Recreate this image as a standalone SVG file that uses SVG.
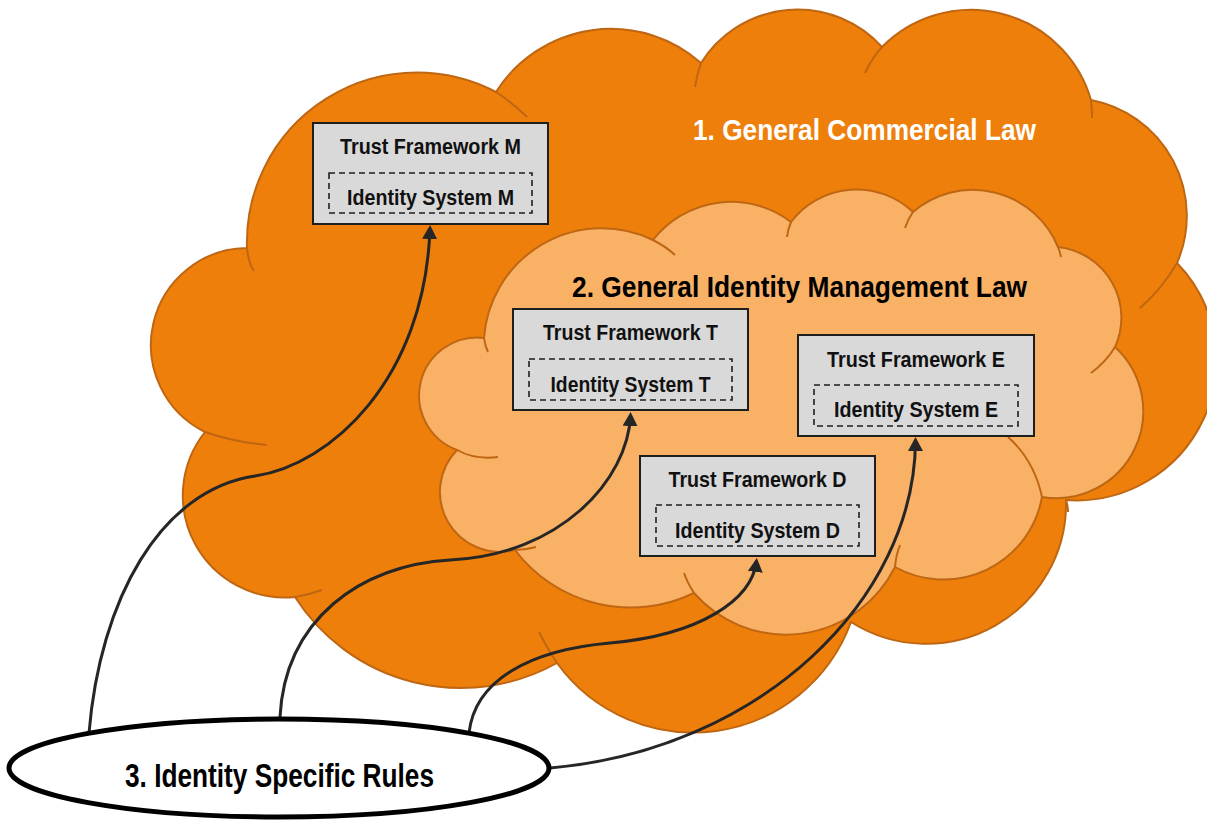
<svg xmlns="http://www.w3.org/2000/svg" width="1207" height="820" viewBox="0 0 1207 820">
<defs>
<style>
.cloud-outer{fill:#EF7F0B;stroke:#BE6612;stroke-width:2}
.cloud-inner{fill:#F9B166;stroke:#BE6612;stroke-width:2}
.tick{fill:none;stroke:#BE6612;stroke-width:2}
.box{fill:#D9D9D9;stroke:#1E1E1E;stroke-width:2}
.dash{fill:none;stroke:#1E1E1E;stroke-width:1.6;stroke-dasharray:6 4}
.lbl{font-family:"Liberation Sans",Arial,sans-serif;font-weight:bold;font-size:22px;fill:#111;text-anchor:middle}
.big{font-family:"Liberation Sans",Arial,sans-serif;font-weight:bold;font-size:30px}
.conn{fill:none;stroke:#262626;stroke-width:3;marker-end:url(#arr)}
</style>
<marker id="arr" viewBox="0 0 14 15" refX="11" refY="7.5" markerWidth="14" markerHeight="15" markerUnits="userSpaceOnUse" orient="auto">
<path d="M0,0 L14,7.5 L0,15 Z" fill="#262626"/>
</marker>
</defs>

<g id="cloud-commercial-law">
<path class="cloud-outer" d="M205,432 A97 97 0 0 1 247,248 A170 170 0 0 1 496,92 A136 136 0 0 1 701,63 A114 114 0 0 1 882,47 A125 125 0 0 1 1091,100 A118 118 0 0 1 1177,263 A140 140 0 0 1 1066,500 A140 140 0 0 1 851,622 A168 168 0 0 1 557,663 A197 197 0 0 1 295,597 A102 102 0 0 1 205,432 Z"/>
<path class="tick" d="M247,248 Q248,262 254,271 M496,92 Q513,103 527,117 M701,63 Q697,74 695,87 M882,47 Q872,58 865,73 M1091,100 Q1092,108 1092,118 M1177,263 Q1162,289 1140,308 M1066,500 Q1068,506 1068,512 M557,663 Q546,646 539,632 M295,597 Q308,595 322,590 M205,432 Q234,442 267,445"/>
<text class="big" x="693" y="140" fill="#FFFFFF" textLength="343" lengthAdjust="spacingAndGlyphs">1. General Commercial Law</text>
</g>

<g id="cloud-identity-law">
<path class="cloud-inner" d="M457,450 A58 58 0 0 1 484,338 A118 118 0 0 1 653,240 A99 99 0 0 1 791,222 A82 82 0 0 1 913,212 A92 92 0 0 1 1058,247 A71 71 0 0 1 1115,347 A87 87 0 0 1 1042,497 A100 100 0 0 1 895,567 A122 122 0 0 1 694,593 A145 145 0 0 1 515,550 A60 60 0 0 1 457,450 Z"/>
<path class="tick" d="M457,450 Q475,460 498,457 M484,338 Q485,346 488,352 M653,240 Q665,246 675,255 M791,222 Q788,229 787,237 M913,212 Q908,219 905,228 M1058,247 Q1060,252 1061,257 M1115,347 Q1106,362 1091,373 M1008,437 Q1034,460 1042,497 M895,567 Q896,555 900,545 M694,593 Q687,582 684,573 M515,550 Q525,550 536,547"/>
<text class="big" x="572" y="297" fill="#000000" textLength="455" lengthAdjust="spacingAndGlyphs">2. General Identity Management Law</text>
</g>

<g id="connectors">
<path class="conn" d="M89,733 C100,600 160,490 255,476 C330,465 425,380 430,228"/>
<path class="conn" d="M280,717 C285,620 360,565 450,560 C560,555 628,480 630.5,415"/>
<path class="conn" d="M469,733 C475,680 530,650 610,643 C700,635 752,600 756.5,561"/>
<path class="conn" d="M550,768 C760,750 915,600 915.5,440"/>
</g>

<g id="node-m">
<rect class="box" x="313" y="123" width="235" height="101"/>
<rect class="dash" x="329" y="173" width="203" height="40"/>
<text class="lbl" x="430.5" y="154" textLength="181" lengthAdjust="spacingAndGlyphs">Trust Framework M</text>
<text class="lbl" x="430.5" y="205" textLength="167" lengthAdjust="spacingAndGlyphs">Identity System M</text>
</g>

<g id="node-t">
<rect class="box" x="513" y="309" width="235" height="101"/>
<rect class="dash" x="529" y="359" width="203" height="41"/>
<text class="lbl" x="630.5" y="340" textLength="175" lengthAdjust="spacingAndGlyphs">Trust Framework T</text>
<text class="lbl" x="630.5" y="392" textLength="160" lengthAdjust="spacingAndGlyphs">Identity System T</text>
</g>

<g id="node-e">
<rect class="box" x="798" y="335" width="236" height="101"/>
<rect class="dash" x="814" y="385" width="204" height="41"/>
<text class="lbl" x="916" y="367" textLength="178" lengthAdjust="spacingAndGlyphs">Trust Framework E</text>
<text class="lbl" x="916" y="417" textLength="164" lengthAdjust="spacingAndGlyphs">Identity System E</text>
</g>

<g id="node-d">
<rect class="box" x="640" y="456" width="235" height="100"/>
<rect class="dash" x="656" y="505" width="203" height="41"/>
<text class="lbl" x="757.5" y="487" textLength="178" lengthAdjust="spacingAndGlyphs">Trust Framework D</text>
<text class="lbl" x="757.5" y="538" textLength="165" lengthAdjust="spacingAndGlyphs">Identity System D</text>
</g>

<g id="node-rules">
<ellipse cx="279" cy="768" rx="270" ry="49" fill="#FFFFFF" stroke="#000000" stroke-width="5"/>
<text x="279.5" y="787" font-family="Liberation Sans, Arial, sans-serif" font-weight="bold" font-size="34" text-anchor="middle" fill="#000" textLength="309" lengthAdjust="spacingAndGlyphs">3. Identity Specific Rules</text>
</g>
</svg>
